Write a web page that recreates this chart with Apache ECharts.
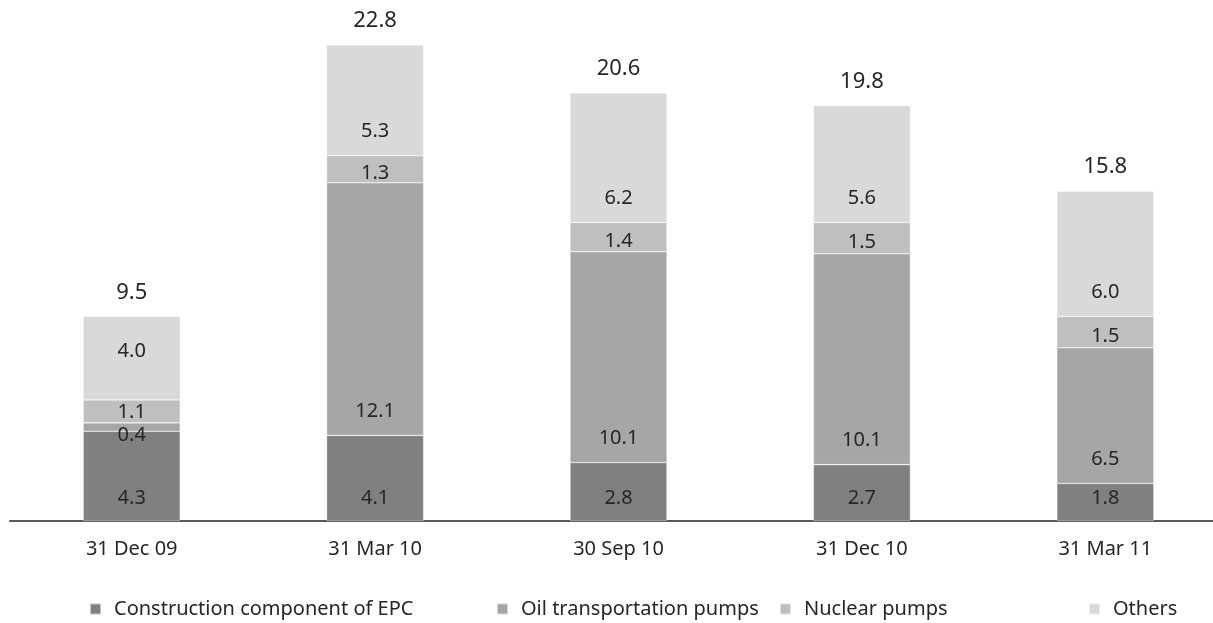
<!DOCTYPE html>
<html>
<head>
<meta charset="utf-8">
<script src="https://cdn.jsdelivr.net/npm/echarts@6/dist/echarts.min.js"></script>
<style>html,body{margin:0;padding:0;background:#fff;overflow:hidden;width:1213px;height:623px}#c{width:1227px;height:623px}</style>
</head>
<body>
<div id="c"></div>
<script>
var categories = ['31 Dec 09', '31 Mar 10', '30 Sep 10', '31 Dec 10', '31 Mar 11'];
var seriesNames = ['Construction component of EPC', 'Oil transportation pumps', 'Nuclear pumps', 'Others'];
var epc = [4.3, 4.1, 2.8, 2.7, 1.8];
var oil = [0.4, 12.1, 10.1, 10.1, 6.5];
var nuclear = [1.1, 1.3, 1.4, 1.5, 1.5];
var others = [4.0, 5.3, 6.2, 5.6, 6.0];
var totals = [9.5, 22.8, 20.6, 19.8, 15.8];

var FONT = '"Noto Sans", sans-serif';
var TXT = '#262626';
var colors = ['#808080', '#a6a6a6', '#bfbfbf', '#d9d9d9'];
var fmt = function (p) { return Number(p.value).toFixed(1); };

function mk(name, arr, color, labelCfg, firstOverride) {
  var lab = Object.assign({ show: true, formatter: fmt, fontFamily: FONT, fontSize: 20, color: TXT }, labelCfg);
  return {
    name: name, type: 'bar', stack: 'a', barWidth: 97,
    itemStyle: { color: color, borderColor: 'rgba(255,255,255,0.55)', borderWidth: 0.6 },
    label: lab,
    data: arr.map(function (v, i) {
      if (i === 0 && firstOverride) return { value: v, label: firstOverride };
      return v;
    })
  };
}

var series = [
  mk(seriesNames[0], epc, colors[0], { position: 'insideBottom', distance: 13 }),
  mk(seriesNames[1], oil, colors[1], { position: 'insideBottom', distance: 14 }, { position: 'inside', offset: [0, 8] }),
  mk(seriesNames[2], nuclear, colors[2], { position: 'inside', offset: [0, 4] }, { position: 'inside', offset: [0, 1] }),
  mk(seriesNames[3], others, colors[3], { position: 'insideBottom', distance: 14 }, { position: 'insideBottom', distance: 39 }),
  {
    name: 'total', type: 'bar', stack: 'a', barWidth: 97,
    itemStyle: { color: 'transparent' },
    label: { show: true, position: 'top', distance: 13, fontFamily: FONT, fontSize: 22, color: TXT,
             formatter: function (p) { return totals[p.dataIndex].toFixed(1); } },
    data: totals.map(function () { return 0; })
  }
];

var legendLefts = [89, 496, 779, 1088];
var legends = seriesNames.map(function (n, i) {
  return {
    data: [n], left: legendLefts[i], top: 599, icon: 'rect', itemWidth: 11, itemHeight: 11,
    padding: 0, selectedMode: false,
    textStyle: { fontFamily: FONT, fontSize: 20, color: TXT, padding: [0, 0, 0, 8] }
  };
});

var chart = echarts.init(document.getElementById('c'), null, { renderer: 'canvas' });
chart.setOption({
  animation: false,
  backgroundColor: '#fff',
  color: colors,
  grid: { left: 10, right: 0, top: 20, bottom: 102, containLabel: false },
  legend: legends,
  xAxis: {
    type: 'category', data: categories,
    axisLine: { lineStyle: { color: '#595959', width: 2 } },
    axisTick: { show: false },
    axisLabel: { fontFamily: FONT, fontSize: 20, color: TXT, margin: 18 }
  },
  yAxis: { type: 'value', min: 0, max: 24, show: false, splitLine: { show: false } },
  series: series
});
</script>
</body>
</html>
